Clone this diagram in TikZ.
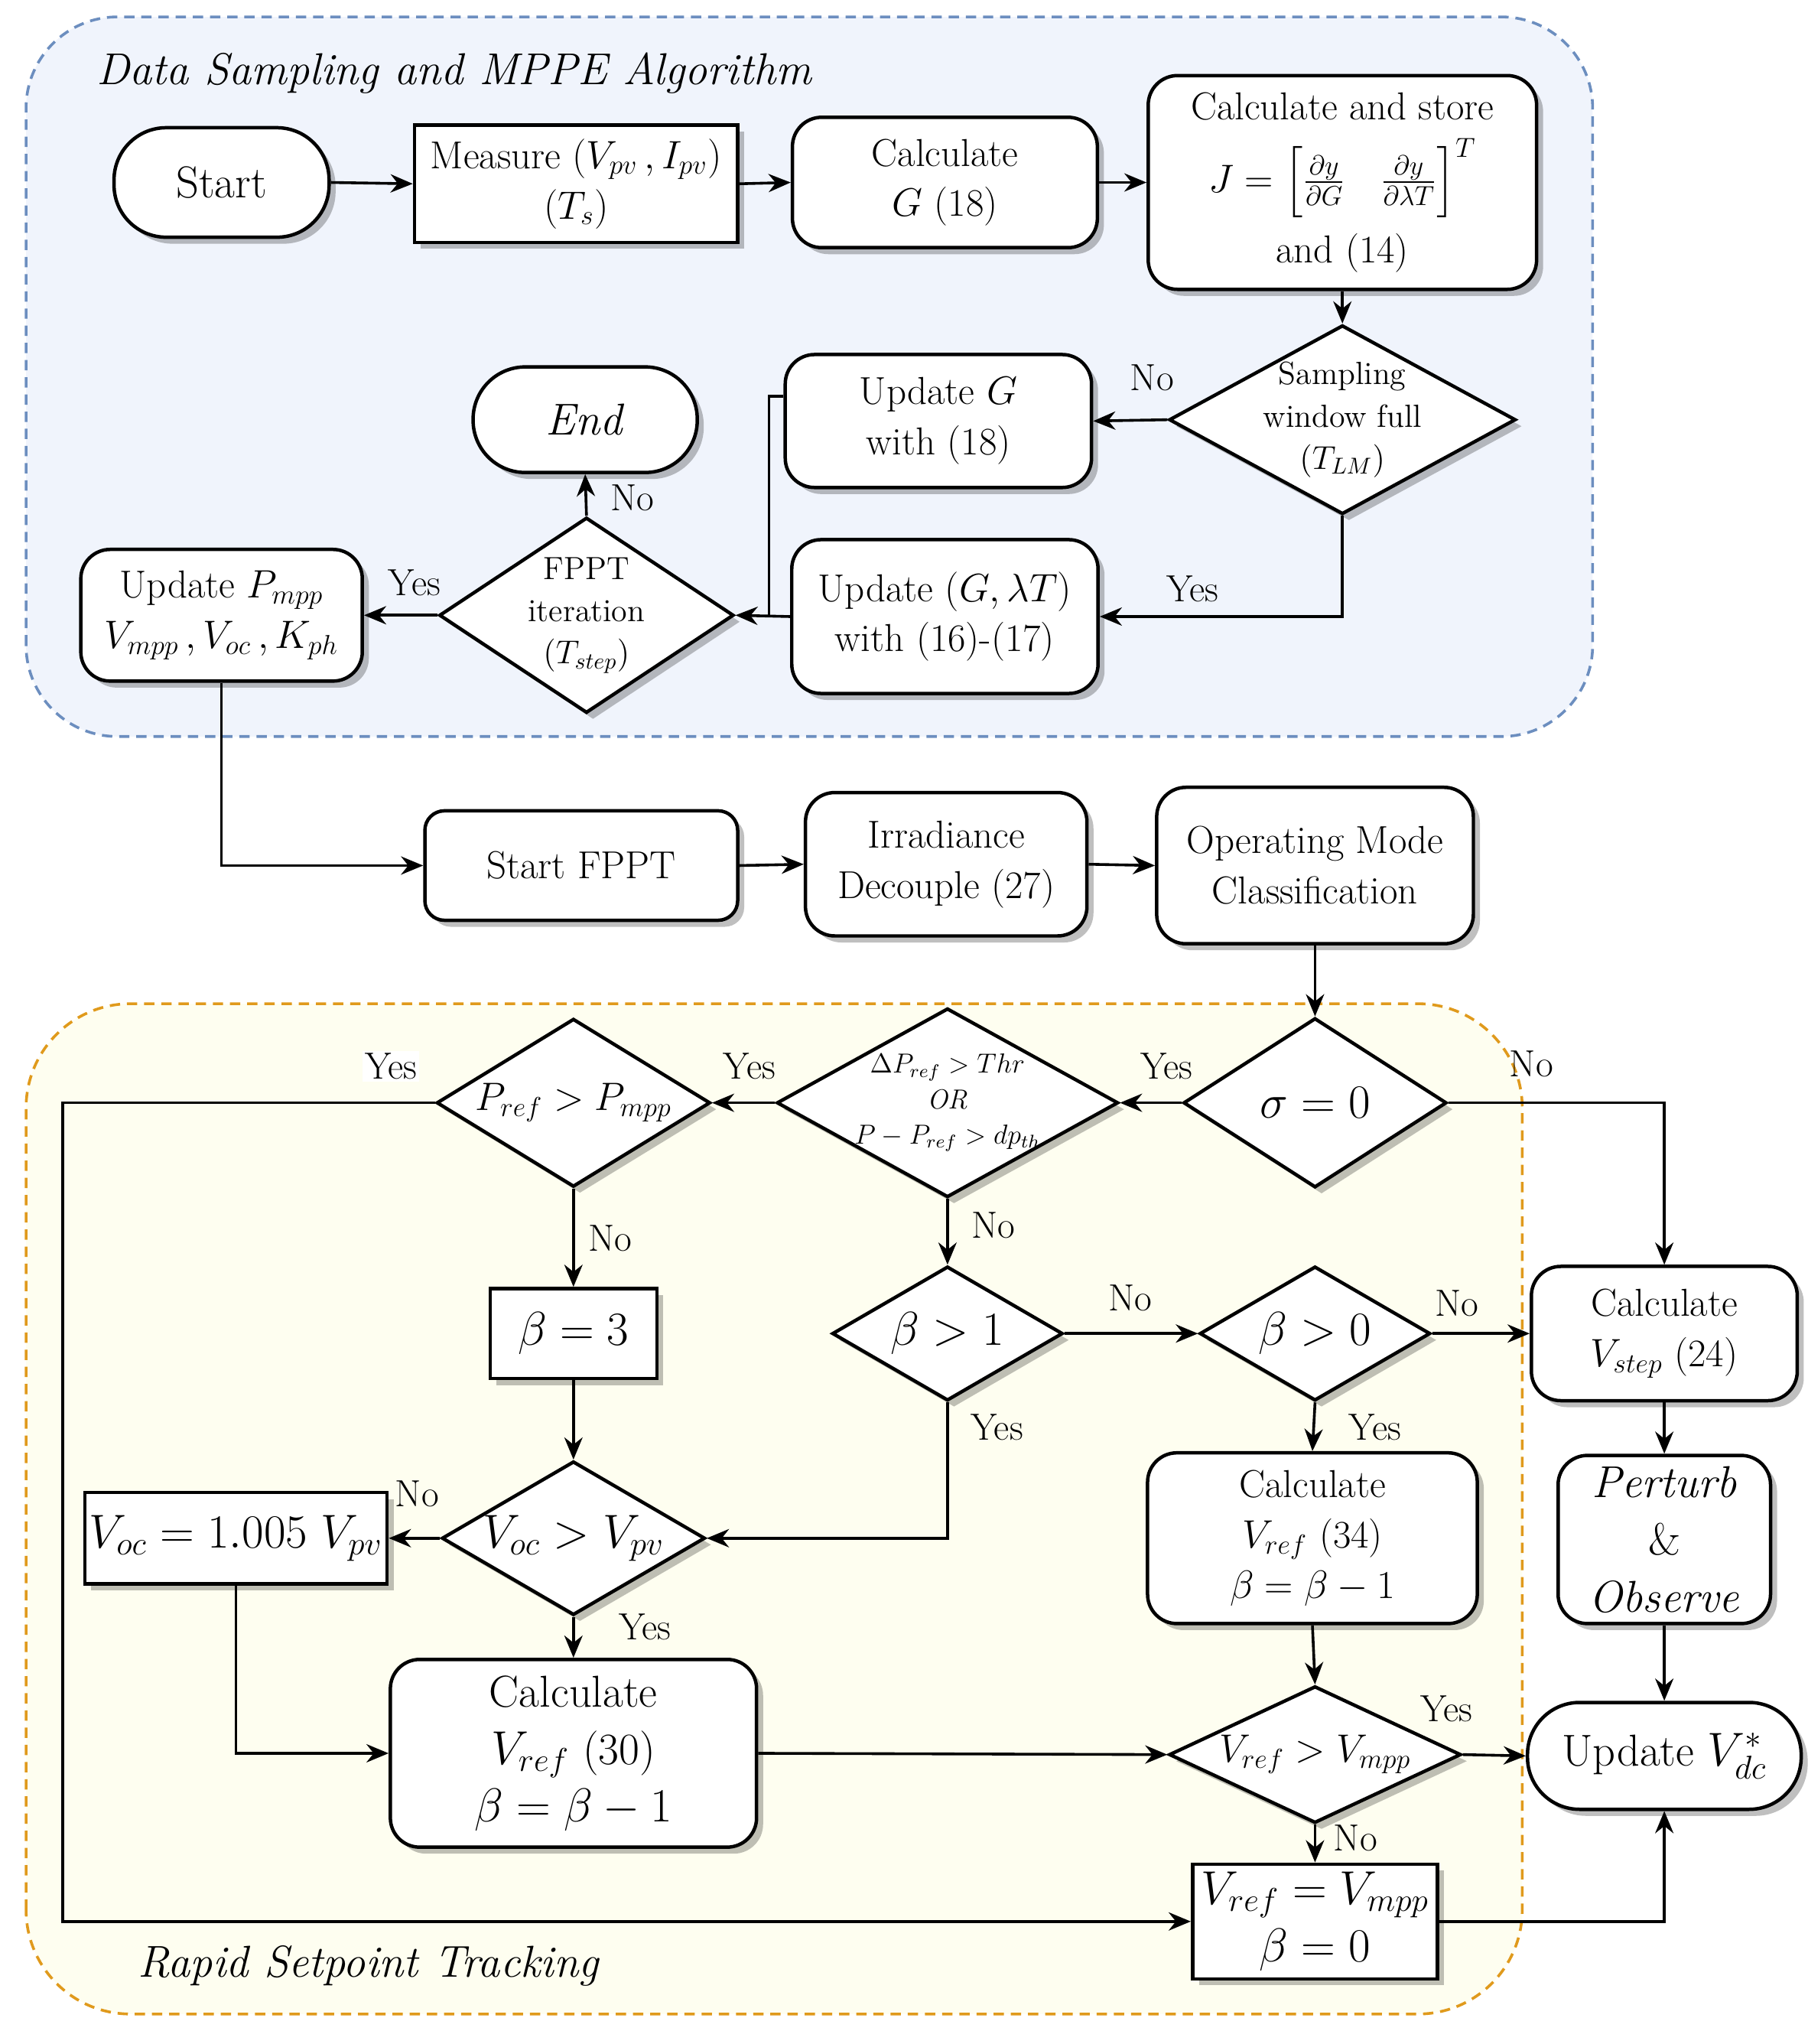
\documentclass[tikz,border=0pt]{standalone}
\usepackage{amsmath}
\usepackage{exscale}
\usetikzlibrary{shapes.geometric,arrows.meta,shadows}

\definecolor{samplefill}{HTML}{F0F4FC}
\definecolor{sampleline}{HTML}{6C8EBF}
\definecolor{trackfill}{HTML}{FEFEF0}
\definecolor{trackline}{HTML}{E09A1C}

\newcommand{\fsbig}{\fontsize{19.5}{25}\selectfont}
\newcommand{\fsmid}{\fontsize{17}{22}\selectfont}
\newcommand{\fssmall}{\fontsize{14}{18.5}\selectfont}
\newcommand{\fstiny}{\fontsize{12}{15.5}\selectfont}
\newcommand{\fslbl}{\fontsize{16.5}{20}\selectfont}

\tikzset{
  block/.style={draw, line width=1.5pt, fill=white, align=center, inner sep=2pt,
    drop shadow={shadow xshift=0.1cm, shadow yshift=-0.1cm, fill=black, opacity=0.25}},
  proc/.style={block, rounded corners=0.45cm},
  term/.style={block, rounded corners=0.8cm},
  decision/.style={block, diamond, inner sep=-1cm},
  flow/.style={line width=1.2pt, -{Stealth[length=0.34cm, width=0.28cm]}},
  wire/.style={line width=1.2pt},
  lbl/.style={font=\fslbl, inner sep=1pt}
}

\begin{document}
\begin{tikzpicture}
  \useasboundingbox (0,0) rectangle (27.74,31.36);
  % Regions
  \draw[sampleline, fill=samplefill, line width=1.2pt, dash pattern=on 4.5pt off 3pt,
    rounded corners=1.4cm] (0.4,20.06) rectangle (24.44,31.1);
  \draw[trackline, fill=trackfill, line width=1.2pt, dash pattern=on 4.5pt off 3pt,
    rounded corners=1.6cm] (0.4,0.46) rectangle (23.36,15.96);
  \node[font=\fsbig\itshape, anchor=west] (ttlSamp) at (1.36,30.24) {Data Sampling and MPPE Algorithm};
  \node[font=\fsbig\itshape, anchor=west] (ttlTrack) at (2.0,1.2) {Rapid Setpoint Tracking};

  % Data sampling: top row
  \node[term, font=\fsbig, minimum width=3.3cm, minimum height=1.68cm] (start) at (3.4,28.56) {Start};
  \node[block, font=\fsmid, minimum width=4.96cm, minimum height=1.8cm] (measure) at (8.84,28.54) {Measure $(V_{pv}\,, I_{pv})$\\$(T_s)$};
  \node[proc, font=\fsmid, minimum width=4.68cm, minimum height=2cm] (calcG) at (14.5,28.56) {Calculate\\$G$ (18)};
  \node[proc, font=\fsmid, minimum width=5.96cm, minimum height=3.28cm] (calcJ) at (20.6,28.56)
    {Calculate and store\\[7pt]$J=\Bigl[\frac{\partial y}{\partial G}\ \ \ \frac{\partial y}{\partial \lambda T}\Bigr]^{T}$\\[6pt]and (14)};
  % Data sampling: loop
  \node[decision, font=\fssmall, minimum width=5.32cm, minimum height=2.9cm] (samp) at (20.6,24.92) {Sampling\\window full\\$(T_{LM})$};
  \node[proc, font=\fsmid, minimum width=4.7cm, minimum height=2.04cm] (updG) at (14.4,24.9) {Update $G$\\with (18)};
  \node[proc, font=\fsmid, minimum width=4.7cm, minimum height=2.36cm] (updGT) at (14.5,21.9) {Update $(G,\lambda T)$\\with (16)-(17)};
  \node[decision, font=\fssmall, minimum width=4.52cm, minimum height=3cm] (fppt) at (9.0,21.92) {FPPT\\iteration\\$(T_{step})$};
  \node[term, font=\fsbig, minimum width=3.44cm, minimum height=1.62cm] (end) at (8.98,24.92) {\textit{End}};
  \node[proc, font=\fsmid, minimum width=4.32cm, minimum height=2.02cm] (updP) at (3.4,21.92) {Update $P_{mpp}$\\$V_{mpp}\,, V_{oc}\,, K_{ph}$};
  \coordinate (jn) at (11.8,21.9);

  % Middle row
  \node[proc, rounded corners=0.3cm, font=\fsmid, minimum width=4.8cm, minimum height=1.68cm] (startF) at (8.92,18.08) {Start FPPT};
  \node[proc, font=\fsmid, minimum width=4.32cm, minimum height=2.2cm] (irr) at (14.52,18.1) {Irradiance\\Decouple (27)};
  \node[proc, font=\fsmid, minimum width=4.86cm, minimum height=2.4cm] (opm) at (20.18,18.08) {Operating Mode\\Classification};

  % Rapid setpoint tracking
  \node[decision, font=\fsbig, minimum width=4.04cm, minimum height=2.6cm] (sigma) at (20.18,14.44) {$\sigma = 0$};
  \node[decision, font=\fstiny, minimum width=5.24cm, minimum height=2.9cm] (dP) at (14.54,14.44)
    {$\Delta P_{ref} > Thr$\\\textit{OR}\\$P - P_{ref} > dp_{th}$};
  \node[decision, font=\fslbl, minimum width=4.2cm, minimum height=2.58cm] (pref) at (8.8,14.44) {$P_{ref} > P_{mpp}$};
  \node[block, font=\fsbig, minimum width=2.56cm, minimum height=1.38cm] (beta3) at (8.8,10.9) {$\beta = 3$};
  \node[decision, font=\fsbig, minimum width=4.04cm, minimum height=2.36cm] (voc) at (8.8,7.76) {$V_{oc} > V_{pv}$};
  \node[block, font=\fsbig, minimum width=4.64cm, minimum height=1.4cm] (vocset) at (3.62,7.76) {$V_{oc} = 1.005\ V_{pv}$};
  \node[proc, font=\fsbig, minimum width=5.62cm, minimum height=2.88cm] (vref30) at (8.8,4.46) {Calculate\\$V_{ref}$ (30)\\$\beta = \beta - 1$};
  \node[decision, font=\fsbig, minimum width=3.54cm, minimum height=2.06cm] (b1) at (14.54,10.9) {$\beta > 1$};
  \node[decision, font=\fsbig, minimum width=3.54cm, minimum height=2.06cm] (b0) at (20.18,10.9) {$\beta > 0$};
  \node[proc, font=\fsmid, minimum width=5.06cm, minimum height=2.62cm] (vref34) at (20.14,7.76) {Calculate\\$V_{ref}$ (34)\\$\beta = \beta - 1$};
  \node[decision, font=\fsmid, minimum width=4.48cm, minimum height=2.1cm] (vmpp) at (20.18,4.44) {$V_{ref} > V_{mpp}$};
  \node[block, font=\fsbig, minimum width=3.76cm, minimum height=1.76cm] (vset) at (20.18,1.88) {$V_{ref} = V_{mpp}$\\$\beta = 0$};
  \coordinate (lft) at (0.96,14.44);
  % Right column
  \node[proc, font=\fsmid, minimum width=4.08cm, minimum height=2.06cm] (vstep) at (25.54,10.9) {Calculate\\$V_{step}$ (24)};
  \node[proc, font=\fsbig, minimum width=3.26cm, minimum height=2.58cm] (po) at (25.54,7.74) {\textit{Perturb}\\\&\\\textit{Observe}};
  \node[term, font=\fsbig, minimum width=4.2cm, minimum height=1.64cm] (updV) at (25.54,4.42) {Update $V_{dc}^*$};

  % Connectors: data sampling
  \draw[flow] (start.east) -- (measure.west);
  \draw[flow] (measure.east) -- (calcG.west);
  \draw[flow] (calcG.east) -- (calcJ.west);
  \draw[flow] (calcJ.south) -- (samp.north);
  \draw[flow] (samp.west) -- (updG.east);
  \draw[flow] (samp.south) |- (updGT.east);
  \draw[wire] ([yshift=0.38cm]updG.west) -| (jn);
  \draw[flow] (updGT.west) -- (fppt.east);
  \draw[flow] (fppt.north) -- (end.south);
  \draw[flow] (fppt.west) -- (updP.east);
  \draw[flow] (updP.south) |- (startF.west);
  \draw[flow] (startF.east) -- (irr.west);
  \draw[flow] (irr.east) -- (opm.west);
  \draw[flow] (opm.south) -- (sigma.north);
  % Connectors: tracking
  \draw[flow] (sigma.west) -- (dP.east);
  \draw[flow] (sigma.east) -| (vstep.north);
  \draw[flow] (dP.west) -- (pref.east);
  \draw[flow] (pref.west) -- (lft) |- (vset.west);
  \draw[flow] (pref.south) -- (beta3.north);
  \draw[flow] (beta3.south) -- (voc.north);
  \draw[flow] (voc.west) -- (vocset.east);
  \draw[flow] (vocset.south) |- (vref30.west);
  \draw[flow] (voc.south) -- (vref30.north);
  \draw[flow] (vref30.east) -- (vmpp.west);
  \draw[flow] (dP.south) -- (b1.north);
  \draw[flow] (b1.east) -- (b0.west);
  \draw[flow] (b1.south) |- (voc.east);
  \draw[flow] (b0.east) -- (vstep.west);
  \draw[flow] (b0.south) -- (vref34.north);
  \draw[flow] (vref34.south) -- (vmpp.north);
  \draw[flow] (vmpp.east) -- (updV.west);
  \draw[flow] (vmpp.south) -- (vset.north);
  \draw[flow] (vset.east) -| (updV.south);
  \draw[flow] (vstep.south) -- (po.north);
  \draw[flow] (po.south) -- (updV.north);

  % Branch labels
  \node[lbl] (lSampNo) at (17.68,25.56) {No};
  \node[lbl] (lSampYes) at (18.3,22.32) {Yes};
  \node[lbl] (lFpptNo) at (9.7,23.72) {No};
  \node[lbl] (lFpptYes) at (6.36,22.42) {Yes};
  \node[lbl] (lSigYes) at (17.9,15.0) {Yes};
  \node[lbl] (lSigNo) at (23.5,15.04) {No};
  \node[lbl] (ldPYes) at (11.5,15.0) {Yes};
  \node[lbl, fill=white] (lPrefYes) at (6.0,15.0) {Yes};
  \node[lbl] (lPrefNo) at (9.36,12.36) {No};
  \node[lbl] (lVocNo) at (6.4,8.44) {No};
  \node[lbl] (lVocYes) at (9.9,6.4) {Yes};
  \node[lbl] (ldPNo) at (15.24,12.56) {No};
  \node[lbl] (lBoneNo) at (17.34,11.44) {No};
  \node[lbl] (lBoneYes) at (15.3,9.46) {Yes};
  \node[lbl] (lBzeroNo) at (22.36,11.36) {No};
  \node[lbl] (lBzeroYes) at (21.1,9.46) {Yes};
  \node[lbl] (lVmppYes) at (22.2,5.14) {Yes};
  \node[lbl] (lVmppNo) at (20.8,3.16) {No};
\end{tikzpicture}
\end{document}
